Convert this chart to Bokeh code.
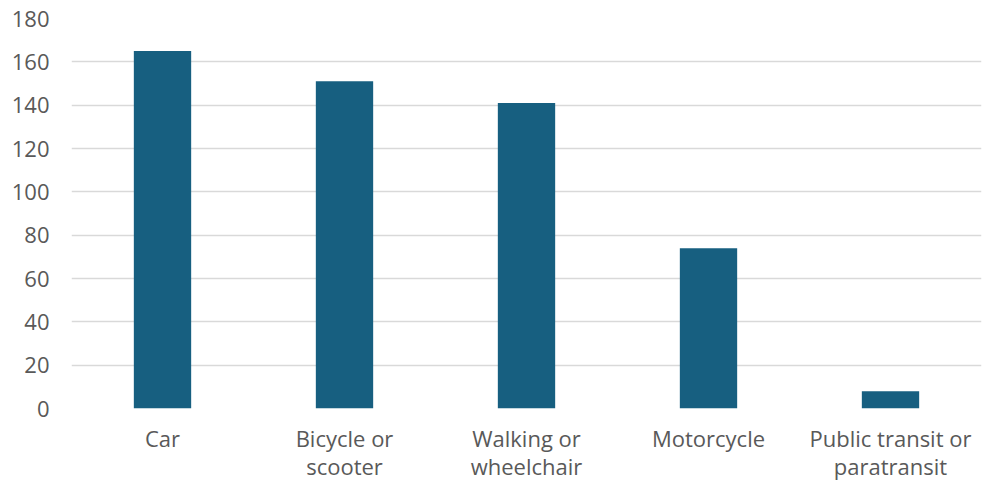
from bokeh.plotting import figure
from bokeh.models import ColumnDataSource, FixedTicker, Range1d
from bokeh.embed import file_html
from bokeh.resources import INLINE

# Mode of transport and count
categories = ["Car", "Bicycle or\nscooter", "Walking or\nwheelchair", "Motorcycle",
              "Public transit or\nparatransit"]
counts = [165, 151, 141, 74, 8]
y_ticks = [0, 20, 40, 60, 80, 100, 120, 140, 160, 180]

BAR_COLOR = "#175f80"
TEXT_COLOR = "#595959"
FONT = "Open Sans"

source = ColumnDataSource(data=dict(mode=categories, count=counts))

p = figure(
    x_range=categories,
    y_range=Range1d(0, 180),
    width=982, height=485,
    output_backend="svg",
    toolbar_location=None,
    min_border_left=71, min_border_right=1,
    min_border_top=18, min_border_bottom=77,
)

p.vbar(x="mode", top="count", width=0.315, source=source,
       fill_color=BAR_COLOR, line_color=None)

p.x_range.range_padding = 0
p.outline_line_color = None
p.background_fill_color = "white"
p.border_fill_color = "white"

# Gridlines
p.xgrid.grid_line_color = None
p.ygrid.grid_line_color = "#d9d9d9"
p.ygrid.grid_line_width = 1.3

# Y axis
p.yaxis.ticker = FixedTicker(ticks=y_ticks)
p.yaxis.axis_line_color = None
p.yaxis.major_tick_line_color = None
p.yaxis.minor_tick_line_color = None
p.yaxis.major_label_standoff = 16
p.yaxis.major_label_text_font = FONT
p.yaxis.major_label_text_font_size = "22px"
p.yaxis.major_label_text_color = TEXT_COLOR

# X axis
p.xaxis.axis_line_color = None
p.xaxis.major_tick_line_color = None
p.xaxis.minor_tick_line_color = None
p.xaxis.major_label_standoff = 8
p.xaxis.major_label_text_font = FONT
p.xaxis.major_label_text_font_size = "22px"
p.xaxis.major_label_text_color = TEXT_COLOR
p.xaxis.major_label_text_line_height = 0.94

open("out.html", "w").write(file_html(p, INLINE))
